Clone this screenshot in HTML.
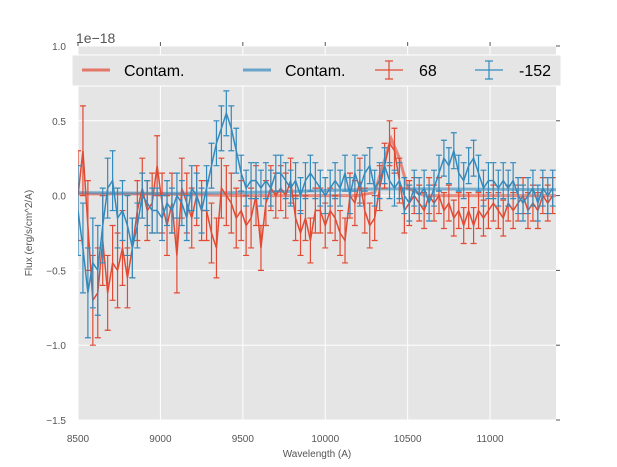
<!DOCTYPE html>
<html><head><meta charset="utf-8"><style>
body{margin:0;background:#fff;}
svg{display:block;font-family:"Liberation Sans",sans-serif;}
</style></head><body>
<svg id="chart" width="617" height="467"></svg>
<script>
const xs=[8500,8530,8560,8590,8620,8650,8680,8710,8740,8770,8800,8830,8860,8890,8920,8950,8980,9010,9040,9070,9100,9130,9160,9190,9220,9250,9280,9310,9340,9370,9400,9430,9460,9490,9520,9550,9580,9610,9640,9670,9700,9730,9760,9790,9820,9850,9880,9910,9940,9970,10000,10030,10060,10090,10120,10150,10180,10210,10240,10270,10300,10330,10360,10390,10420,10450,10480,10510,10540,10570,10600,10630,10660,10690,10720,10750,10780,10810,10840,10870,10900,10930,10960,10990,11020,11050,11080,11110,11140,11170,11200,11230,11260,11290,11320,11350,11380];
const redVals=[0.0,0.3,-0.2,-0.7,-0.65,-0.3,-0.65,-0.45,-0.5,-0.35,-0.55,-0.35,-0.1,0.05,-0.1,-0.05,0.2,-0.05,-0.2,-0.05,-0.4,0.05,-0.05,-0.15,0.0,-0.1,-0.1,-0.25,-0.35,0.05,0.0,-0.05,-0.15,-0.1,-0.2,-0.15,0.0,-0.35,-0.05,0.05,0.0,0.05,0.0,0.1,-0.15,-0.25,-0.15,-0.3,-0.1,-0.1,-0.2,-0.1,-0.15,-0.25,-0.3,0.0,-0.05,0.1,-0.1,-0.2,-0.15,0.05,0.2,0.35,0.3,0.1,-0.1,-0.05,0.0,-0.05,-0.1,0.0,-0.05,0.0,-0.1,-0.05,-0.15,-0.1,-0.2,-0.1,-0.2,-0.1,-0.15,-0.1,-0.05,-0.1,-0.15,-0.05,-0.1,-0.05,0.0,-0.1,-0.05,-0.1,0.0,-0.05,0.0];
const redErr=[0.3,0.3,0.3,0.3,0.3,0.3,0.25,0.25,0.25,0.25,0.2,0.2,0.2,0.2,0.2,0.2,0.2,0.2,0.2,0.2,0.25,0.2,0.2,0.2,0.2,0.2,0.2,0.2,0.2,0.2,0.2,0.2,0.2,0.2,0.2,0.2,0.2,0.15,0.15,0.15,0.15,0.15,0.15,0.15,0.15,0.15,0.15,0.15,0.15,0.15,0.15,0.15,0.15,0.15,0.15,0.15,0.15,0.15,0.15,0.15,0.15,0.15,0.15,0.15,0.15,0.15,0.15,0.15,0.12,0.12,0.12,0.12,0.12,0.12,0.12,0.12,0.12,0.12,0.12,0.12,0.12,0.12,0.12,0.12,0.12,0.12,0.12,0.12,0.12,0.12,0.12,0.12,0.12,0.12,0.12,0.12,0.12];
const blueVals=[-0.1,-0.35,-0.65,-0.45,-0.5,-0.2,0.05,0.1,-0.15,-0.1,-0.2,-0.35,-0.2,0.0,-0.05,-0.1,-0.1,-0.15,-0.05,-0.1,0.0,-0.05,-0.15,0.05,0.0,-0.1,0.05,0.2,0.35,0.45,0.55,0.45,0.3,0.15,0.05,0.1,0.1,0.05,0.1,0.05,0.15,0.15,0.1,0.05,0.1,0.0,0.1,0.15,0.1,0.05,0.0,0.05,0.1,0.05,0.15,0.0,0.15,0.05,0.15,0.2,0.05,0.1,0.2,0.1,0.05,0.1,0.0,-0.05,0.05,0.0,0.05,-0.05,0.05,0.15,0.25,0.2,0.3,0.15,0.1,0.2,0.25,0.15,0.05,0.1,0.1,0.05,0.1,0.05,0.1,0.0,-0.05,0.0,0.05,-0.05,0.05,0.0,0.05];
const blueErr=[0.3,0.3,0.3,0.3,0.3,0.25,0.2,0.2,0.2,0.2,0.2,0.2,0.15,0.15,0.15,0.15,0.15,0.15,0.15,0.15,0.15,0.15,0.15,0.15,0.15,0.15,0.15,0.15,0.15,0.15,0.15,0.15,0.15,0.12,0.12,0.12,0.12,0.12,0.12,0.12,0.12,0.12,0.12,0.12,0.12,0.12,0.12,0.12,0.12,0.12,0.12,0.12,0.12,0.12,0.12,0.12,0.12,0.12,0.12,0.12,0.12,0.12,0.12,0.12,0.12,0.12,0.12,0.12,0.12,0.12,0.12,0.12,0.12,0.12,0.12,0.12,0.12,0.12,0.12,0.12,0.12,0.12,0.12,0.12,0.12,0.12,0.12,0.12,0.12,0.12,0.12,0.12,0.12,0.12,0.12,0.12,0.12];
const contamX=[8500,9000,9500,10200,10300,10350,10400,10450,10500,10600,11400];
const redContam=[0.01,0.01,0.0,0.0,0.02,0.2,0.38,0.25,0.05,0.0,0.0];
const blueContam=[0.02,0.015,0.02,0.04,0.045,0.045,0.045,0.045,0.045,0.045,0.04];
const xTicks=[8500,9000,9500,10000,10500,11000];
const yTicks=[-1.5,-1.0,-0.5,0.0,0.5,1.0];
const yTickLabels=["\u22121.5","\u22121.0","\u22120.5","0.0","0.5","1.0"];

const L=78,R=556,T=46,B=420;
const sx=v=>L+(v-8500)/(11400-8500)*(R-L);
const sy=v=>T+(1.0-v)/(2.5)*(B-T);
const NS="http://www.w3.org/2000/svg";
const svg=document.getElementById('chart');
function mk(tag,attrs,parent){const e=document.createElementNS(NS,tag);for(const k in attrs)e.setAttribute(k,attrs[k]);(parent||svg).appendChild(e);return e;}

const bg=mk('rect',{x:L,y:T,width:R-L,height:B-T,fill:'#e5e5e5'});


xTicks.forEach(t=>{
  const g=mk('line',{x1:sx(t),x2:sx(t),y1:T,y2:B,stroke:'#fff','stroke-width':1});
  
  
});
yTicks.forEach((t,i)=>{
  const g=mk('line',{x1:L,x2:R,y1:sy(t),y2:sy(t),stroke:'#fff','stroke-width':1});
  
  
});

function contam(vals,color,name){
  const p=mk('polyline',{points:contamX.map((x,i)=>sx(x)+','+sy(vals[i])).join(' '),fill:'none',stroke:color,'stroke-width':3,'stroke-opacity':0.6});
  
  
}
contam(redContam,'#E24A33','contam-line-68');
contam(blueContam,'#348ABD','contam-line-152');

function series(vals,errs,color,name){
  const g=mk('g',{stroke:color,'stroke-width':1.2,fill:'none'});
  
  
  xs.forEach((x,i)=>{
    const X=sx(x),y1=sy(vals[i]-errs[i]),y2=sy(vals[i]+errs[i]);
    const e=mk('path',{d:`M${X},${y1}V${y2}M${X-3},${y1}H${X+3}M${X-3},${y2}H${X+3}`},g);
    
    
  });
  const p=mk('polyline',{points:xs.map((x,i)=>sx(x)+','+sy(vals[i])).join(' '),'stroke-width':1.5},g);
  
  
}
series(redVals,redErr,'#E24A33','series-68');
series(blueVals,blueErr,'#348ABD','series-152');

// cover overflow
const c1=mk('rect',{x:0,y:B,width:617,height:47,fill:'#fff'});

const c2=mk('rect',{x:0,y:0,width:617,height:T,fill:'#fff'});

const c3=mk('rect',{x:R,y:T,width:61,height:B-T,fill:'#fff'});

const c4=mk('rect',{x:0,y:T,width:L,height:B-T,fill:'#fff'});


xTicks.forEach(t=>{
  const tk=mk('line',{x1:sx(t),x2:sx(t),y1:T,y2:T-4,stroke:'#555'});
  
  
  const tl=mk('text',{x:sx(t),y:442,'text-anchor':'middle','font-size':10,fill:'#555'});
  tl.textContent=t;
  
  
});
yTicks.forEach((t,i)=>{
  const tk=mk('line',{x1:R,x2:R+4,y1:sy(t),y2:sy(t),stroke:'#555'});
  
  
  const tl=mk('text',{x:66,y:sy(t)+4,'text-anchor':'end','font-size':10,fill:'#555'});
  tl.textContent=yTickLabels[i];
  
  
});

const off=mk('text',{x:76,y:43,'font-size':14,fill:'#555'});
off.textContent='1e\u221218';

const xl=mk('text',{x:317,y:457,'text-anchor':'middle','font-size':10,fill:'#555'});
xl.textContent='Wavelength (A)';

const yl=mk('text',{x:0,y:0,'text-anchor':'middle','font-size':10,fill:'#555',transform:'translate(32,233) rotate(-90)'});
yl.textContent='Flux (erg/s/cm^2/A)';


// legend
const lg=mk('g',{});

mk('rect',{x:72,y:55,width:489,height:31,fill:'#e5e5e5',stroke:'#fff','stroke-width':1},lg);
const entries=[[82,'#E24A33','Contam.',false],[243,'#348ABD','Contam.',false],[375,'#E24A33','68',true],[475,'#348ABD','-152',true]];
entries.forEach(e=>{
  const g=mk('g',{},lg);
  
  
  const x=e[0],y=70;
  if(e[3]){
    mk('path',{d:`M${x},${y}H${x+28}M${x+14},${y-9}V${y+9}M${x+10},${y-9}H${x+18}M${x+10},${y+9}H${x+18}`,stroke:e[1],'stroke-width':1.2,fill:'none'},g);
  }else{
    mk('line',{x1:x,x2:x+28,y1:y,y2:y,stroke:e[1],'stroke-width':3,'stroke-opacity':0.7},g);
  }
  const t=mk('text',{x:x+(e[3]?44:42),y:76,'font-size':16,fill:'#000'},g);
  t.textContent=e[2];
});
</script>
</body></html>
